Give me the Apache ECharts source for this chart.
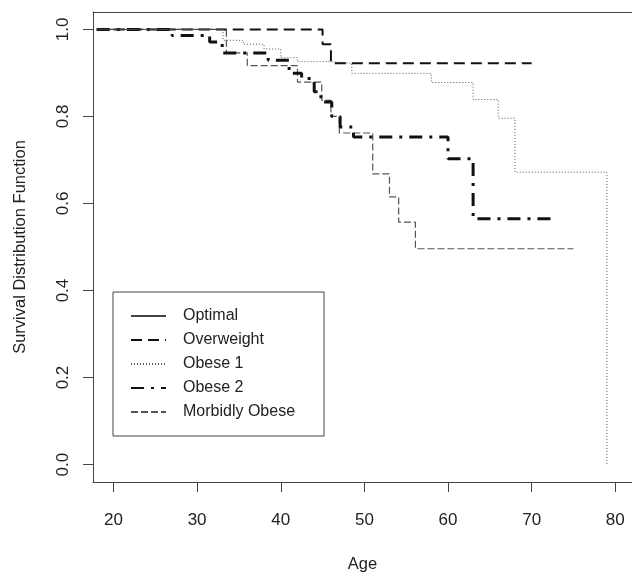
<!DOCTYPE html>
<html>
<head>
<meta charset="utf-8">
<script src="https://cdn.jsdelivr.net/npm/echarts@6/dist/echarts.min.js"></script>
<style>
html,body{margin:0;padding:0;background:#fff;}
#chart{width:632px;height:578px;}
</style>
</head>
<body>
<div id="chart"></div>
<script>
// Tick labels
var xTicks = [20, 30, 40, 50, 60, 70, 80];
var yTicks = [0, 0.2, 0.4, 0.6, 0.8, 1.0];

// Series names
var groupNames = ['Optimal', 'Overweight', 'Obese 1', 'Obese 2', 'Morbidly Obese'];

// Kaplan-Meier step data (age, survival)
var optimalAge  = [18, 33.2];
var optimalSurv = [1, 1];

var overweightAge  = [18, 45, 46, 70];
var overweightSurv = [1, 0.966, 0.922, 0.922];

var obese1Age  = [18, 33.1, 35.5, 38, 40, 42, 46, 48.5, 58, 63, 66, 68, 79];
var obese1Surv = [1, 0.975, 0.966, 0.955, 0.935, 0.926, 0.922, 0.899, 0.878, 0.839, 0.796, 0.672, 0];

var obese2Age  = [18, 27, 31.5, 33, 38.5, 41, 42.5, 44, 44.8, 46.1, 47.1, 48.7, 60, 63, 73];
var obese2Surv = [1, 0.986, 0.971, 0.946, 0.929, 0.899, 0.887, 0.857, 0.833, 0.80, 0.776, 0.753, 0.703, 0.565, 0.565];

var morbidAge  = [18, 33.5, 36, 42, 44.9, 46, 47, 51, 53, 54.1, 56.1, 75];
var morbidSurv = [1, 0.946, 0.917, 0.879, 0.837, 0.80, 0.762, 0.668, 0.615, 0.557, 0.496, 0.496];

function pairs(a, s) {
  var out = [];
  for (var i = 0; i < a.length; i++) out.push([a[i], s[i]]);
  return out;
}

var styles = [
  {color: '#444', width: 1, type: 'solid'},
  {color: '#111', width: 2, type: [11, 6]},
  {color: '#555', width: 1, type: [1, 2]},
  {color: '#111', width: 3, type: [13, 7, 3, 7]},
  {color: '#555', width: 1.2, type: [7, 3]}
];
var datasets = [
  pairs(optimalAge, optimalSurv),
  pairs(overweightAge, overweightSurv),
  pairs(obese1Age, obese1Surv),
  pairs(obese2Age, obese2Surv),
  pairs(morbidAge, morbidSurv)
];

var series = groupNames.map(function (n, i) {
  return {
    name: n,
    type: 'line',
    step: 'end',
    symbol: 'none',
    showSymbol: false,
    data: datasets[i],
    xAxisIndex: 0,
    yAxisIndex: 0,
    lineStyle: {color: styles[i].color, width: styles[i].width, type: styles[i].type, cap: 'butt'},
    itemStyle: {color: styles[i].color},
    emphasis: {disabled: true},
    z: 5 - i
  };
});

var font = '"Liberation Sans", Arial, sans-serif';
var frameLine = {show: true, onZero: false, lineStyle: {color: '#444', width: 1}};
var xMin = 17.55, xMax = 82.0;
var chart = echarts.init(document.getElementById('chart'), null, {renderer: 'canvas'});
chart.setOption({
  animation: false,
  backgroundColor: '#fff',
  grid: {left: 93, top: 12, bottom: 96, right: 0, show: false},
  legend: {
    orient: 'vertical',
    left: 113,
    top: 292,
    data: groupNames,
    borderColor: '#444',
    borderWidth: 1,
    padding: [16, 29, 16, 17],
    itemWidth: 35,
    itemHeight: 14,
    itemGap: 8,
    selectedMode: false,
    itemStyle: {opacity: 0},
    textStyle: {fontFamily: font, fontSize: 16, color: '#222', padding: [0, 0, 0, 12]}
  },
  xAxis: [{
    type: 'value',
    position: 'bottom',
    min: xMin,
    max: xMax,
    name: 'Age',
    nameLocation: 'middle',
    nameGap: 74,
    nameTextStyle: {fontFamily: font, fontSize: 16.5, color: '#222'},
    splitLine: {show: false},
    axisLine: frameLine,
    axisTick: {show: true, inside: false, length: 10, customValues: xTicks, lineStyle: {color: '#444'}},
    axisLabel: {customValues: xTicks, margin: 30, fontFamily: font, fontSize: 17, color: '#222'}
  }, {
    type: 'value',
    position: 'top',
    min: xMin,
    max: xMax,
    splitLine: {show: false},
    axisLine: frameLine,
    axisTick: {show: false},
    axisLabel: {show: false}
  }],
  yAxis: {
    type: 'value',
    min: -0.04,
    max: 1.04,
    name: 'Survival Distribution Function',
    nameLocation: 'middle',
    nameGap: 64,
    nameTextStyle: {fontFamily: font, fontSize: 16.5, color: '#222'},
    splitLine: {show: false},
    axisLine: frameLine,
    axisTick: {show: true, inside: false, length: 10, customValues: yTicks, lineStyle: {color: '#444'}},
    axisLabel: {customValues: yTicks, rotate: 90, margin: 21, fontFamily: font, fontSize: 17, color: '#222',
      formatter: function (v) { return v.toFixed(1); }}
  },
  series: series
});
</script>
</body>
</html>
